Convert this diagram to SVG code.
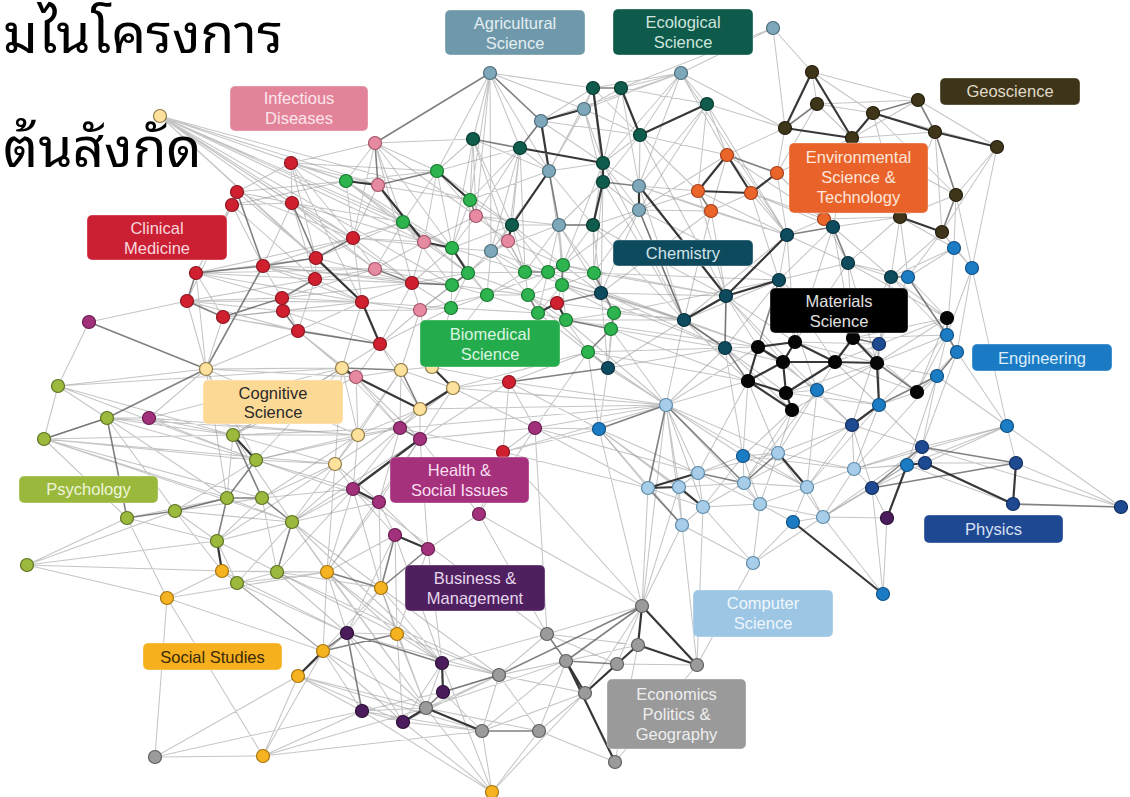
<svg xmlns="http://www.w3.org/2000/svg" width="1130" height="797" viewBox="0 0 1130 797">
<style>
.lt{fill:none;stroke:#858585;stroke-opacity:.48;stroke-width:1.05}
.md{fill:none;stroke:#5e5e5e;stroke-opacity:.78;stroke-width:1.6}
.dk{fill:none;stroke:#222;stroke-opacity:.9;stroke-width:2.2}
circle{stroke-width:1.2}
.ag circle{fill:#7ea7ba;stroke:#4e6e7c}
.ec circle{fill:#0f5b4c;stroke:#073a30}
.ge circle{fill:#3f3518;stroke:#241e0c}
.en circle{fill:#ea6529;stroke:#a8401a}
.ch circle{fill:#0f4b5e;stroke:#06303d}
.ms circle{fill:#050505;stroke:#000}
.eg circle{fill:#1b7cc4;stroke:#0f5286}
.ph circle{fill:#1e4a92;stroke:#112e60}
.cs circle{fill:#a7cde8;stroke:#5d8bab}
.bm circle{fill:#2db44e;stroke:#177a31}
.cm circle{fill:#d0202f;stroke:#8e1520}
.id circle{fill:#e68aa1;stroke:#a4566a}
.cg circle{fill:#fde19c;stroke:#8f7b45}
.ps circle{fill:#9bb93d;stroke:#5e7322}
.hs circle{fill:#a2317b;stroke:#6a1d50}
.ss circle{fill:#f6b321;stroke:#a7760f}
.bu circle{fill:#4b1c5c;stroke:#2c0f37}
.ep circle{fill:#9b9b9b;stroke:#606060}
.lb rect{stroke:#fff;stroke-opacity:.35;stroke-width:1}
.lb text{font-family:"Liberation Sans",Arial,sans-serif;font-size:16.5px;text-anchor:middle}
.thai{font-family:"Noto Sans Thai Looped","Noto Sans Thai","Noto Sans","DejaVu Sans",sans-serif;font-size:55px;fill:#000}
</style>
<rect width="1130" height="797" fill="#fff"/>
<g id="connectors">
<path class="lt" d="M160 116L353 238M160 116L378 185M160 116L346 181M160 116L362 302M160 116L452 248M160 116L424 242M160 116L452 285M160 116L412 283M160 116L470 200M160 116L316 258M160 116L375 269M160 116L292 203M160 116L403 222
M375 143L291 163M375 143L346 181M375 143L353 238M375 143L403 222M375 143L452 248M375 143L476 216M375 143L412 283M375 143L473 139M375 143L437 171
M291 163L292 203M291 163L237 192M291 163L353 238M291 163L346 181M291 163L378 185M291 163L316 258M291 163L403 222M291 163L362 302
M292 203L237 192M292 203L232 205M292 203L353 238M292 203L263 266M292 203L403 222M292 203L375 269M292 203L315 279
M237 192L232 205M237 192L196 273M237 192L316 258M237 192L353 238M232 205L196 273M232 205L187 301M232 205L263 266M232 205L315 279
M196 273L223 317M196 273L282 298M196 273L315 279M196 273L316 258M196 273L375 269M196 273L362 302
M187 301L282 298M187 301L283 311M187 301L298 331M187 301L206 369M187 301L362 302
M223 317L283 311M223 317L298 331M223 317L206 369M223 317L380 344
M263 266L282 298M263 266L315 279M263 266L353 238M263 266L375 269M263 266L362 302M263 266L403 222M263 266L412 283
M282 298L283 311M282 298L298 331M282 298L362 302M282 298L375 269M283 311L380 344M283 311L420 310
M315 279L316 258M315 279L362 302M315 279L375 269M315 279L412 283M315 279L452 285M315 279L298 331
M353 238L316 258M353 238L403 222M353 238L424 242M353 238L375 269M353 238L362 302M353 238L412 283M353 238L452 248M353 238L346 181
M362 302L412 283M362 302L420 310M362 302L451 308M362 302L298 331M362 302L342 368
M412 283L420 310M412 283L452 285M412 283L468 273M412 283L451 308M412 283L424 242M412 283L452 248M412 283L380 344
M298 331L380 344M298 331L342 368M298 331L356 377M298 331L206 369
M380 344L356 377M380 344L342 368M380 344L401 370M380 344L420 310M380 344L420 409M380 344L451 308
M346 181L437 171M346 181L403 222M346 181L452 248M346 181L424 242
M437 171L403 222M437 171L476 216M437 171L452 248M437 171L473 139M437 171L424 242
M470 200L476 216M470 200L452 248M470 200L473 139M470 200L520 148M470 200L549 171M470 200L512 225M470 200L468 273M470 200L525 272
M403 222L452 248M403 222L424 242M403 222L452 285M403 222L375 269M403 222L468 273
M452 248L452 285M452 248L476 216M452 248L512 225M452 248L491 251M452 248L487 295M452 248L525 272
M468 273L452 285M468 273L487 295M468 273L525 272M468 273L491 251M468 273L451 308M468 273L508 241M468 273L528 295
M452 285L487 295M452 285L451 308M452 285L420 310M452 285L528 295
M487 295L451 308M487 295L525 272M487 295L528 295M487 295L538 313M487 295L491 251M487 295L548 272
M451 308L420 310M451 308L538 313M451 308L432 367
M525 272L563 265M525 272L528 295M525 272L491 251M525 272L508 241M525 272L512 225M525 272L559 225
M548 272L562 285M548 272L528 295M548 272L559 225M548 272L594 273M548 272L538 313
M563 265L559 225M563 265L594 273M563 265L593 225M563 265L601 293
M562 285L528 295M562 285L538 313M562 285L566 320M562 285L557 303M562 285L594 273M562 285L614 313
M528 295L557 303M528 295L566 320M538 313L566 320M538 313L588 352
M566 320L588 352M566 320L614 313M594 273L601 293M594 273L593 225M594 273L639 210M594 273L559 225
M614 313L601 293M614 313L684 320M614 313L608 368M611 329L608 368M588 352L608 368M588 352L509 382
M490 73L473 139M490 73L520 148M490 73L549 171M490 73L437 171M490 73L470 200M490 73L491 251M490 73L584 109M490 73L593 88M490 73L476 216
M541 121L520 148M541 121L593 88M541 121L603 163M541 121L640 135M541 121L681 73
M549 171L520 148M549 171L603 163M549 171L512 225M549 171L491 251M549 171L593 225M549 171L563 265
M559 225L491 251M559 225L512 225M559 225L601 293M559 225L603 182M559 225L562 285
M491 251L512 225M491 251L508 241M491 251L528 295M491 251L548 272
M584 109L593 88M584 109L621 88M584 109L681 73M584 109L603 163M584 109L640 135M584 109L549 171M584 109L603 182
M681 73L593 88M681 73L621 88M681 73L707 104M681 73L640 135M681 73L639 186M681 73L727 155M681 73L785 128M681 73L603 163M681 73L773 28M681 73L787 235
M473 139L476 216M473 139L512 225M473 139L452 248M473 139L508 241
M520 148L512 225M520 148L476 216M520 148L508 241M520 148L525 272M520 148L491 251
M512 225L593 225M512 225L525 272M512 225L563 265M512 225L548 272
M593 88L603 182M593 88L640 135M593 88L549 171M621 88L707 104M621 88L639 186M621 88L603 163
M707 104L727 155M707 104L698 191M707 104L785 128M707 104L639 186M707 104L639 210
M640 135L603 163M640 135L639 186M640 135L639 210M640 135L698 191M640 135L603 182
M603 163L593 225M603 163L639 186M603 163L639 210M603 163L563 265
M603 182L639 210M603 182L594 273M603 182L601 293M593 225L601 293M593 225L639 210
M639 186L698 191M639 186L711 211M639 186L787 235M639 210L601 293M639 210L711 211M639 210L684 320
M773 28L785 128M773 28L621 88M773 28L812 72
M727 155L640 135M727 155L639 210M727 155L711 211M727 155L785 128M727 155L824 219M727 155L787 235
M777 173L824 219M777 173L785 128M777 173L817 104M777 173L787 235M777 173L833 227M777 173L852 138
M698 191L787 235M698 191L726 296M698 191L639 210M751 193L711 211M751 193L787 235M751 193L824 219M751 193L779 280M751 193L833 227
M711 211L726 296M711 211L684 320M711 211L787 235M711 211L601 293
M824 219L848 263M824 219L900 217M824 219L852 138M824 219L787 235
M812 72L817 104M812 72L918 100M812 72L873 113M817 104L873 113M817 104L852 138M817 104L918 100
M785 128L727 155M785 128L777 173M918 100L997 147M918 100L852 138
M873 113L997 147M873 113L900 217M873 113L956 195M852 138L935 132M852 138L900 217M852 138L956 195M852 138L833 227
M935 132L900 217M935 132L942 232M997 147L956 195M997 147L942 232M997 147L972 268
M956 195L900 217M956 195L954 248M956 195L972 268M900 217L833 227M900 217L848 263M900 217L954 248M900 217L908 277M900 217L891 277
M942 232L954 248M942 232L972 268M942 232L891 277M942 232L908 277
M833 227L779 280M833 227L891 277M787 235L779 280M787 235L848 263M787 235L684 320
M848 263L891 277M848 263L779 280M848 263L908 277M848 263L853 338M848 263L795 342
M891 277L954 248M891 277L947 318M891 277L853 338M891 277L879 344
M779 280L725 348M779 280L795 342M779 280L684 320M726 296L725 348M726 296L601 293M726 296L758 347
M684 320L725 348M684 320L601 293M684 320L608 368M684 320L666 405M684 320L566 320
M725 348L758 347M725 348L608 368M725 348L666 405M725 348L783 362M601 293L608 368M601 293L562 285
M608 368L666 405M608 368L599 429
M786 393L877 363M792 410L877 363M792 410L778 453M792 410L743 456M786 393L817 390M947 318L853 338M947 318L877 363M947 318L917 392M947 318L908 277
M853 338L879 344M877 363L879 344M917 392L937 376M917 392L879 405M917 392L957 352M748 381L666 405M748 381L743 456M792 410L744 483
M954 248L972 268M954 248L908 277M954 248L947 335M972 268L947 335M972 268L957 352M972 268L1007 426M908 277L879 344
M947 335L937 376M947 335L917 392M957 352L1007 426M937 376L1007 426M937 376L922 447
M879 405L922 447M879 405L817 390M1007 426L922 447M1007 426L925 463M1007 426L1016 463M1007 426L907 465M1007 426L1121 507
M907 465L922 447M907 465L872 488M907 465L854 469M817 390L786 393M817 390L852 425M817 390L778 453M817 390L835 362
M879 344L852 425M879 344L879 405M852 425L922 447M852 425L872 488M852 425L854 469M852 425L778 453M922 447L925 463M925 463L1016 463M925 463L872 488
M872 488L854 469M872 488L823 517M1016 463L1121 507M1013 504L907 465M1121 507L922 447
M793 522L823 517M793 522L760 504M793 522L807 487M883 594L872 488M883 594L823 517M883 594L887 518M887 518L872 488M887 518L823 517
M666 405L698 473M666 405L679 487M666 405L703 507M666 405L682 525M666 405L778 453M666 405L743 456M666 405L535 428M666 405L453 388M666 405L400 428M666 405L509 382M666 405L588 352M666 405L608 368M666 405L420 409M666 405L503 452M666 405L638 645
M778 453L760 504M778 453L743 456M778 453L854 469M778 453L823 517M778 453L698 473
M698 473L679 487M698 473L703 507M698 473L743 456M698 473L760 504
M648 488L703 507M648 488L642 606M648 488L535 428M648 488L599 429
M679 487L682 525M679 487L744 483M744 483L760 504M744 483L807 487M744 483L743 456M744 483L703 507
M807 487L760 504M807 487L823 517M807 487L854 469M807 487L793 522
M703 507L682 525M703 507L760 504M703 507L753 563M760 504L823 517M760 504L753 563
M682 525L642 606M682 525L753 563M753 563L823 517M753 563L793 522M854 469L823 517M854 469L922 447M854 469L925 463
M682 525L697 665M703 507L697 665M753 563L697 665
M206 369L58 386M206 369L196 273M206 369L223 317M206 369L342 368M206 369L233 435M206 369L149 418M206 369L356 377
M58 386L107 418M58 386L44 439M58 386L233 435M58 386L342 368M58 386L256 460
M107 418L44 439M107 418L233 435M107 418L256 460M107 418L175 511M107 418L227 498M107 418L358 435
M44 439L233 435M44 439L256 460M44 439L127 518M44 439L227 498M44 439L262 498M44 439L335 464M44 439L292 522
M233 435L227 498M233 435L358 435M233 435L342 368M233 435L292 522M233 435L149 418M233 435L335 464
M256 460L358 435M256 460L335 464M256 460L353 489M256 460L175 511
M227 498L175 511M227 498L292 522M227 498L127 518
M262 498L277 572M262 498L335 464M262 498L353 489M262 498L217 541
M127 518L27 565M127 518L217 541M127 518L167 598
M175 511L217 541M175 511L292 522M175 511L222 571M175 511L262 498
M27 565L217 541M27 565L222 571M27 565L167 598M27 565L175 511
M217 541L237 583M217 541L292 522M217 541L277 572
M237 583L222 571M237 583L277 572M237 583L327 572M237 583L292 522
M277 572L327 572M277 572L381 588M292 522L335 464M292 522L353 489M292 522L327 572M292 522L381 588M292 522L379 502
M342 368L358 435M342 368L335 464M342 368L400 428
M401 370L453 388M401 370L432 367M401 370L356 377M401 370L400 428M401 370L420 310
M453 388L400 428M453 388L420 439M453 388L509 382M453 388L588 352M453 388L535 428
M420 409L400 428M420 409L420 439M420 409L358 435M420 409L335 464
M358 435L335 464M358 435L353 489M358 435L400 428M358 435L356 377
M335 464L353 489M335 464L379 502M335 464L327 572
M432 367L420 310M432 367L451 308M432 367L487 295M432 367L509 382
M89 322L187 301M89 322L58 386M149 418L233 435M149 418L342 368M149 418L256 460M149 418L107 418M149 418L358 435
M400 428L353 489M400 428L379 502M420 439L379 502M420 439L535 428M420 439L479 514M420 439L428 549
M535 428L509 382M535 428L503 452M535 428L479 514M535 428L599 429M535 428L588 352M535 428L698 473
M353 489L395 535M353 489L327 572M353 489L381 588M379 502L395 535M379 502L381 588M379 502L428 549
M479 514L503 452M479 514L428 549M479 514L547 634M395 535L397 634M395 535L347 633M395 535L327 572M428 549L442 663M428 549L397 634
M509 382L503 452M509 382L588 352M509 382L599 429M509 382L420 439M503 452L400 428M503 452L599 429
M222 571L167 598M222 571L327 572M222 571L323 651M222 571L277 572M167 598L263 756M167 598L323 651M167 598L327 572M167 598L155 757
M263 756L155 757M263 756L298 676M263 756L362 711M263 756L426 708M263 756L482 731M263 756L323 651
M327 572L323 651M327 572L347 633M327 572L397 634M381 588L397 634M381 588L347 633M381 588L323 651M381 588L442 663
M397 634L347 633M397 634L442 663M397 634L403 722M323 651L362 711M323 651L403 722
M298 676L362 711M298 676L347 633M298 676L155 757M298 676L403 722
M492 792L482 731M492 792L426 708M492 792L403 722M492 792L539 731M492 792L362 711M492 792L585 693M492 792L442 663
M347 633L403 722M347 633L426 708M442 663L426 708M442 663L499 675M442 663L547 634M442 663L403 722
M443 692L362 711M443 692L482 731M443 692L499 675M362 711L403 722M362 711L426 708M362 711L482 731M403 722L482 731M403 722L499 675M155 757L362 711
M426 708L499 675M426 708L539 731M426 708L566 661M499 675L482 731M499 675L539 731M499 675L547 634M499 675L566 661M499 675L585 693
M482 731L585 693M482 731L566 661M539 731L566 661M539 731L585 693M539 731L615 762
M547 634L642 606M547 634L638 645M547 634L617 664M566 661L638 645M642 606L617 664M642 606L585 693M642 606L682 525M642 606L679 487
M638 645L615 762M617 664L697 665M617 664L585 693M697 665L615 762
M292 522L426 708M277 572L499 675M327 572L426 708M381 588L499 675M292 522L442 663M353 489L547 634M503 452L642 606M535 428L547 634M599 429L642 606M599 429L648 488M503 452L648 488M479 514L642 606"/>
<path class="lt" d="M563 265L726 296M562 285L725 348M566 320L758 347M594 273L726 296M594 273L779 280M611 329L725 348M611 329L748 381M588 352L748 381M588 352L725 348M614 313L779 280M601 293L758 347M601 293L725 348M557 303L684 320M548 272L684 320M525 272L684 320M563 265L639 210M528 295L608 368M566 320L666 405M611 329L666 405M588 352L599 429
M639 210L779 280M639 186L684 320M603 182L684 320M640 135L726 296M707 104L787 235M603 163L684 320M593 225L684 320M593 225L726 296
M726 296L795 342M726 296L783 362M684 320L758 347M684 320L748 381M725 348L786 393M725 348L792 410M779 280L835 362M779 280L853 338M787 235L795 342M833 227L853 338M833 227L795 342M848 263L877 363M848 263L947 318M891 277L877 363M891 277L947 335M779 280L817 390M726 296L817 390
M758 347L817 390M795 342L879 344M795 342L877 363M835 362L879 405M835 362L917 392M853 338L917 392M853 338L947 335M786 393L879 405M792 410L852 425M783 362L852 425M748 381L778 453M748 381L698 473M758 347L666 405M725 348L743 456M835 362L947 318M877 363L947 335M877 363L937 376
M852 425L807 487M852 425L744 483M879 405L854 469M879 405L807 487M817 390L744 483M817 390L807 487M922 447L823 517M907 465L823 517M937 376L907 465M937 376L854 469M1007 426L854 469M957 352L922 447M947 335L879 405
M666 405L807 487M666 405L760 504M599 429L698 473M599 429L679 487M599 429L703 507M599 429L682 525M743 456L807 487M743 456L760 504M743 456L854 469M743 456L703 507
M237 192L346 181M232 205L346 181M291 163L437 171M292 203L424 242M196 273L353 238M187 301L315 279M223 317L362 302M263 266L452 285M282 298L412 283M283 311L362 302M316 258L403 222M316 258L412 283M375 269L452 285M375 269L424 242M375 269L468 273M420 310L487 295M420 310L468 273M424 242L468 273M424 242L476 216M476 216L512 225M476 216L508 241M508 241L525 272M508 241L563 265M378 185L403 222M378 185L353 238M346 181L470 200M437 171L512 225M437 171L520 148M473 139L549 171M476 216L559 225
M206 369L256 460M206 369L227 498M206 369L358 435M342 368L233 435M342 368L256 460M401 370L358 435M401 370L335 464M356 377L400 428M356 377L233 435M356 377L420 439M233 435L400 428M256 460L400 428M256 460L379 502M292 522L400 428M292 522L420 439M277 572L353 489M327 572L379 502M327 572L420 439M217 541L335 464M262 498L358 435
M327 572L442 663M381 588L426 708M397 634L426 708M397 634L499 675M347 633L499 675M323 651L426 708M298 676L426 708M298 676L482 731M222 571L347 633M237 583L347 633M237 583L323 651M277 572L397 634M277 572L347 633M395 535L442 663"/>
<path class="md" d="M490 73L375 143M490 73L541 121M375 143L378 185M378 185L437 171M473 139L520 148M593 88L621 88M549 171L559 225M559 225L593 225
M196 273L263 266M263 266L316 258M316 258L353 238M196 273L187 301M187 301L223 317M282 298L315 279M223 317L282 298M283 311L298 331M375 269L412 283M292 203L316 258M237 192L263 266M298 331L380 344
M206 369L89 322M206 369L107 418M206 369L263 266M233 435L262 498M256 460L227 498M262 498L292 522M227 498L217 541M127 518L175 511M175 511L227 498M107 418L127 518M292 522L277 572M227 498L262 498M44 439L107 418
M342 368L401 370M401 370L420 409M400 428L420 439M327 572L381 588M381 588L395 535M381 588L428 549M323 651L347 633M323 651L397 634M347 633L442 663M443 692L426 708M362 711L347 633
M499 675L642 606M482 731L539 731M566 661L617 664M566 661L642 606M547 634L566 661M443 692L499 675
M648 488L682 525M698 473L744 483M778 453L744 483M666 405L648 488M666 405L599 429M666 405L744 483M509 382L608 368
M872 488L922 447M872 488L1016 463M1013 504L1121 507M922 447L1016 463M879 405L937 376M947 335L957 352M937 376L957 352M908 277L947 335M947 318L947 335M877 363L917 392M853 338L879 344M748 381L725 348
M779 280L758 347M787 235L833 227M848 263L833 227M891 277L908 277M873 113L918 100M918 100L935 132M956 195L942 232M956 195L935 132M817 104L785 128M727 155L777 173M698 191L711 211
M525 272L548 272M548 272L563 265M563 265L562 285M528 295L538 313M566 320L611 329M594 273L614 313M614 313L611 329M611 329L588 352M468 273L452 285M557 303L601 293
M684 320L725 348M726 296L725 348M639 210L684 320M603 182L639 186M520 148L541 121M470 200L476 216M412 283L452 285"/>
<path class="dk" d="M541 121L584 109M541 121L549 171M621 88L640 135M640 135L707 104M593 88L603 163M603 163L603 182M603 182L593 225M639 186L639 210M639 186L726 296M520 148L603 163M512 225L549 171M512 225L508 241
M437 171L470 200M346 181L378 185M378 185L424 242M424 242L452 248M452 248L468 273M538 313L557 303M557 303L566 320M316 258L362 302M362 302L380 344
M727 155L698 191M698 191L751 193M727 155L751 193M751 193L777 173
M812 72L785 128M812 72L852 138M785 128L852 138M873 113L852 138M873 113L935 132M935 132L997 147M900 217L942 232
M787 235L726 296M779 280L726 296M726 296L684 320
M758 347L795 342M758 347L783 362M758 347L748 381M795 342L783 362M783 362L748 381M748 381L786 393M783 362L786 393M786 393L792 410M748 381L792 410M795 342L835 362M783 362L835 362M835 362L853 338M786 393L835 362M835 362L877 363M853 338L877 363M879 405L877 363M879 405L852 425
M925 463L1013 504M1016 463L1013 504M907 465L925 463M887 518L907 465M793 522L883 594
M648 488L698 473M648 488L679 487M679 487L703 507M778 453L807 487
M233 435L256 460M356 377L420 409M342 368L356 377M420 409L453 388M432 367L453 388M353 489L420 439M379 502L353 489M395 535L428 549
M222 571L217 541M298 676L323 651M442 663L443 692M403 722L426 708M426 708L482 731
M642 606L638 645M642 606L697 665M638 645L697 665M638 645L585 693M566 661L615 762M566 661L585 693M617 664L638 645"/>
</g>
<g id="nodes">
<g id="agricultural-nodes" class="ag"><circle id="A1" cx="490" cy="73" r="6.5"/><circle id="A2" cx="541" cy="121" r="6.5"/><circle id="A3" cx="549" cy="171" r="6.5"/><circle id="A4" cx="559" cy="225" r="6.5"/><circle id="A5" cx="491" cy="251" r="6.5"/><circle id="A6" cx="584" cy="109" r="6.5"/><circle id="A7" cx="681" cy="73" r="6.5"/><circle id="A8" cx="639" cy="186" r="6.5"/><circle id="A9" cx="639" cy="210" r="6.5"/><circle id="A10" cx="773" cy="28" r="6.5"/></g>
<g id="ecological-nodes" class="ec"><circle id="E1" cx="473" cy="139" r="6.5"/><circle id="E2" cx="520" cy="148" r="6.5"/><circle id="E3" cx="512" cy="225" r="6.5"/><circle id="E4" cx="593" cy="88" r="6.5"/><circle id="E5" cx="621" cy="88" r="6.5"/><circle id="E6" cx="707" cy="104" r="6.5"/><circle id="E7" cx="640" cy="135" r="6.5"/><circle id="E8" cx="603" cy="163" r="6.5"/><circle id="E9" cx="603" cy="182" r="6.5"/><circle id="E10" cx="593" cy="225" r="6.5"/></g>
<g id="geoscience-nodes" class="ge"><circle id="G1" cx="812" cy="72" r="6.5"/><circle id="G2" cx="817" cy="104" r="6.5"/><circle id="G3" cx="785" cy="128" r="6.5"/><circle id="G4" cx="918" cy="100" r="6.5"/><circle id="G5" cx="873" cy="113" r="6.5"/><circle id="G6" cx="852" cy="138" r="6.5"/><circle id="G7" cx="935" cy="132" r="6.5"/><circle id="G8" cx="997" cy="147" r="6.5"/><circle id="G9" cx="956" cy="195" r="6.5"/><circle id="G10" cx="900" cy="217" r="6.5"/><circle id="G11" cx="942" cy="232" r="6.5"/></g>
<g id="environmental-nodes" class="en"><circle id="N1" cx="727" cy="155" r="6.5"/><circle id="N2" cx="777" cy="173" r="6.5"/><circle id="N3" cx="698" cy="191" r="6.5"/><circle id="N4" cx="751" cy="193" r="6.5"/><circle id="N5" cx="711" cy="211" r="6.5"/><circle id="N6" cx="824" cy="219" r="6.5"/></g>
<g id="chemistry-nodes" class="ch"><circle id="C1" cx="833" cy="227" r="6.5"/><circle id="C2" cx="787" cy="235" r="6.5"/><circle id="C3" cx="848" cy="263" r="6.5"/><circle id="C4" cx="891" cy="277" r="6.5"/><circle id="C5" cx="779" cy="280" r="6.5"/><circle id="C6" cx="726" cy="296" r="6.5"/><circle id="C7" cx="684" cy="320" r="6.5"/><circle id="C8" cx="725" cy="348" r="6.5"/><circle id="C9" cx="601" cy="293" r="6.5"/><circle id="C10" cx="608" cy="368" r="6.5"/></g>
<g id="materials-nodes" class="ms"><circle id="M1" cx="758" cy="347" r="6.5"/><circle id="M2" cx="795" cy="342" r="6.5"/><circle id="M3" cx="783" cy="362" r="6.5"/><circle id="M4" cx="748" cy="381" r="6.5"/><circle id="M5" cx="835" cy="362" r="6.5"/><circle id="M6" cx="786" cy="393" r="6.5"/><circle id="M7" cx="792" cy="410" r="6.5"/><circle id="M8" cx="947" cy="318" r="6.5"/><circle id="M9" cx="853" cy="338" r="6.5"/><circle id="M10" cx="877" cy="363" r="6.5"/><circle id="M11" cx="917" cy="392" r="6.5"/></g>
<g id="engineering-nodes" class="eg"><circle id="B1" cx="954" cy="248" r="6.5"/><circle id="B2" cx="972" cy="268" r="6.5"/><circle id="B3" cx="908" cy="277" r="6.5"/><circle id="B4" cx="947" cy="335" r="6.5"/><circle id="B5" cx="957" cy="352" r="6.5"/><circle id="B6" cx="937" cy="376" r="6.5"/><circle id="B7" cx="879" cy="405" r="6.5"/><circle id="B8" cx="1007" cy="426" r="6.5"/><circle id="B9" cx="907" cy="465" r="6.5"/><circle id="B10" cx="817" cy="390" r="6.5"/><circle id="B11" cx="599" cy="429" r="6.5"/><circle id="B12" cx="743" cy="456" r="6.5"/><circle id="B13" cx="793" cy="522" r="6.5"/><circle id="B14" cx="883" cy="594" r="6.5"/></g>
<g id="physics-nodes" class="ph"><circle id="P1" cx="879" cy="344" r="6.5"/><circle id="P2" cx="852" cy="425" r="6.5"/><circle id="P3" cx="922" cy="447" r="6.5"/><circle id="P4" cx="925" cy="463" r="6.5"/><circle id="P5" cx="872" cy="488" r="6.5"/><circle id="P6" cx="1016" cy="463" r="6.5"/><circle id="P7" cx="1013" cy="504" r="6.5"/><circle id="P8" cx="1121" cy="507" r="6.5"/></g>
<g id="computer-nodes" class="cs"><circle id="S1" cx="666" cy="405" r="6.5"/><circle id="S2" cx="778" cy="453" r="6.5"/><circle id="S3" cx="698" cy="473" r="6.5"/><circle id="S4" cx="648" cy="488" r="6.5"/><circle id="S5" cx="679" cy="487" r="6.5"/><circle id="S6" cx="744" cy="483" r="6.5"/><circle id="S7" cx="807" cy="487" r="6.5"/><circle id="S8" cx="703" cy="507" r="6.5"/><circle id="S9" cx="760" cy="504" r="6.5"/><circle id="S10" cx="823" cy="517" r="6.5"/><circle id="S11" cx="682" cy="525" r="6.5"/><circle id="S12" cx="854" cy="469" r="6.5"/><circle id="S13" cx="753" cy="563" r="6.5"/></g>
<g id="biomedical-nodes" class="bm"><circle id="g1" cx="346" cy="181" r="6.5"/><circle id="g2" cx="437" cy="171" r="6.5"/><circle id="g3" cx="470" cy="200" r="6.5"/><circle id="g4" cx="403" cy="222" r="6.5"/><circle id="g5" cx="452" cy="248" r="6.5"/><circle id="g6" cx="468" cy="273" r="6.5"/><circle id="g7" cx="452" cy="285" r="6.5"/><circle id="g8" cx="487" cy="295" r="6.5"/><circle id="g9" cx="451" cy="308" r="6.5"/><circle id="g10" cx="525" cy="272" r="6.5"/><circle id="g11" cx="548" cy="272" r="6.5"/><circle id="g12" cx="563" cy="265" r="6.5"/><circle id="g13" cx="562" cy="285" r="6.5"/><circle id="g14" cx="528" cy="295" r="6.5"/><circle id="g15" cx="538" cy="313" r="6.5"/><circle id="g16" cx="566" cy="320" r="6.5"/><circle id="g17" cx="594" cy="273" r="6.5"/><circle id="g18" cx="614" cy="313" r="6.5"/><circle id="g19" cx="611" cy="329" r="6.5"/><circle id="g20" cx="588" cy="352" r="6.5"/></g>
<g id="clinical-nodes" class="cm"><circle id="R1" cx="237" cy="192" r="6.5"/><circle id="R2" cx="232" cy="205" r="6.5"/><circle id="R3" cx="291" cy="163" r="6.5"/><circle id="R4" cx="292" cy="203" r="6.5"/><circle id="R5" cx="353" cy="238" r="6.5"/><circle id="R6" cx="316" cy="258" r="6.5"/><circle id="R7" cx="196" cy="273" r="6.5"/><circle id="R8" cx="187" cy="301" r="6.5"/><circle id="R9" cx="223" cy="317" r="6.5"/><circle id="R10" cx="263" cy="266" r="6.5"/><circle id="R11" cx="282" cy="298" r="6.5"/><circle id="R12" cx="283" cy="311" r="6.5"/><circle id="R13" cx="315" cy="279" r="6.5"/><circle id="R14" cx="362" cy="302" r="6.5"/><circle id="R15" cx="412" cy="283" r="6.5"/><circle id="R16" cx="298" cy="331" r="6.5"/><circle id="R17" cx="380" cy="344" r="6.5"/><circle id="R18" cx="509" cy="382" r="6.5"/><circle id="R19" cx="503" cy="452" r="6.5"/><circle id="R20" cx="557" cy="303" r="6.5"/></g>
<g id="infectious-nodes" class="id"><circle id="I1" cx="375" cy="143" r="6.5"/><circle id="I2" cx="378" cy="185" r="6.5"/><circle id="I3" cx="476" cy="216" r="6.5"/><circle id="I4" cx="424" cy="242" r="6.5"/><circle id="I5" cx="508" cy="241" r="6.5"/><circle id="I6" cx="375" cy="269" r="6.5"/><circle id="I7" cx="420" cy="310" r="6.5"/><circle id="I8" cx="356" cy="377" r="6.5"/></g>
<g id="cognitive-nodes" class="cg"><circle id="Y1" cx="160" cy="116" r="6.5"/><circle id="Y2" cx="206" cy="369" r="6.5"/><circle id="Y3" cx="342" cy="368" r="6.5"/><circle id="Y4" cx="401" cy="370" r="6.5"/><circle id="Y5" cx="453" cy="388" r="6.5"/><circle id="Y6" cx="420" cy="409" r="6.5"/><circle id="Y7" cx="358" cy="435" r="6.5"/><circle id="Y8" cx="335" cy="464" r="6.5"/><circle id="Y9" cx="432" cy="367" r="6.5"/></g>
<g id="psychology-nodes" class="ps"><circle id="Q1" cx="58" cy="386" r="6.5"/><circle id="Q2" cx="107" cy="418" r="6.5"/><circle id="Q3" cx="44" cy="439" r="6.5"/><circle id="Q4" cx="233" cy="435" r="6.5"/><circle id="Q5" cx="256" cy="460" r="6.5"/><circle id="Q6" cx="227" cy="498" r="6.5"/><circle id="Q7" cx="262" cy="498" r="6.5"/><circle id="Q8" cx="127" cy="518" r="6.5"/><circle id="Q9" cx="175" cy="511" r="6.5"/><circle id="Q10" cx="27" cy="565" r="6.5"/><circle id="Q11" cx="217" cy="541" r="6.5"/><circle id="Q12" cx="237" cy="583" r="6.5"/><circle id="Q13" cx="277" cy="572" r="6.5"/><circle id="Q14" cx="292" cy="522" r="6.5"/></g>
<g id="health-nodes" class="hs"><circle id="H1" cx="89" cy="322" r="6.5"/><circle id="H2" cx="149" cy="418" r="6.5"/><circle id="H3" cx="400" cy="428" r="6.5"/><circle id="H4" cx="420" cy="439" r="6.5"/><circle id="H5" cx="535" cy="428" r="6.5"/><circle id="H6" cx="353" cy="489" r="6.5"/><circle id="H7" cx="379" cy="502" r="6.5"/><circle id="H8" cx="479" cy="514" r="6.5"/><circle id="H9" cx="395" cy="535" r="6.5"/><circle id="H10" cx="428" cy="549" r="6.5"/></g>
<g id="social-nodes" class="ss"><circle id="O1" cx="222" cy="571" r="6.5"/><circle id="O2" cx="167" cy="598" r="6.5"/><circle id="O3" cx="263" cy="756" r="6.5"/><circle id="O4" cx="327" cy="572" r="6.5"/><circle id="O5" cx="381" cy="588" r="6.5"/><circle id="O6" cx="397" cy="634" r="6.5"/><circle id="O7" cx="323" cy="651" r="6.5"/><circle id="O8" cx="298" cy="676" r="6.5"/><circle id="O9" cx="492" cy="792" r="6.5"/></g>
<g id="business-nodes" class="bu"><circle id="U1" cx="347" cy="633" r="6.5"/><circle id="U2" cx="442" cy="663" r="6.5"/><circle id="U3" cx="443" cy="692" r="6.5"/><circle id="U4" cx="362" cy="711" r="6.5"/><circle id="U5" cx="403" cy="722" r="6.5"/><circle id="H11" cx="887" cy="518" r="6.5"/></g>
<g id="economics-nodes" class="ep"><circle id="X1" cx="155" cy="757" r="6.5"/><circle id="X2" cx="426" cy="708" r="6.5"/><circle id="X3" cx="499" cy="675" r="6.5"/><circle id="X4" cx="482" cy="731" r="6.5"/><circle id="X5" cx="539" cy="731" r="6.5"/><circle id="X6" cx="547" cy="634" r="6.5"/><circle id="X7" cx="566" cy="661" r="6.5"/><circle id="X8" cx="642" cy="606" r="6.5"/><circle id="X9" cx="638" cy="645" r="6.5"/><circle id="X11" cx="617" cy="664" r="6.5"/><circle id="X12" cx="697" cy="665" r="6.5"/><circle id="X13" cx="585" cy="693" r="6.5"/><circle id="X14" cx="615" cy="762" r="6.5"/></g>
</g>
<g id="labels">
<g id="label-agricultural" class="lb"><rect x="445" y="10" width="140" height="45" rx="5" fill="#6f99aa"/><text fill="#e3eef2"><tspan x="515" y="29">Agricultural</tspan><tspan x="515" y="49">Science</tspan></text></g>
<g id="label-ecological" class="lb"><rect x="613" y="9" width="140" height="46" rx="5" fill="#0e5a4b"/><text fill="#cfe5dd"><tspan x="683" y="28">Ecological</tspan><tspan x="683" y="48">Science</tspan></text></g>
<g id="label-geoscience" class="lb"><rect x="940" y="78" width="140" height="27" rx="5" fill="#3d3419"/><text x="1010" y="97" fill="#e0dac8">Geoscience</text></g>
<g id="label-environmental" class="lb"><rect x="789" y="143" width="139" height="70" rx="5" fill="#e9622a"/><text fill="#fde6da"><tspan x="858.5" y="163">Environmental</tspan><tspan x="858.5" y="183">Science &amp;</tspan><tspan x="858.5" y="203">Technology</tspan></text></g>
<g id="label-infectious" class="lb"><rect x="230" y="86" width="138" height="45" rx="5" fill="#e3839a"/><text fill="#fce6eb"><tspan x="299" y="104">Infectious</tspan><tspan x="299" y="124">Diseases</tspan></text></g>
<g id="label-clinical" class="lb"><rect x="87" y="215" width="140" height="45" rx="5" fill="#cb1f34"/><text fill="#f8d7db"><tspan x="157" y="234">Clinical</tspan><tspan x="157" y="254">Medicine</tspan></text></g>
<g id="label-chemistry" class="lb"><rect x="613" y="240" width="140" height="26" rx="5" fill="#0e4a5e"/><text x="683" y="259" fill="#d2e3e9">Chemistry</text></g>
<g id="label-materials" class="lb"><rect x="770" y="288" width="138" height="45" rx="5" fill="#000"/><text fill="#e0e0e0"><tspan x="839" y="307">Materials</tspan><tspan x="839" y="327">Science</tspan></text></g>
<g id="label-biomedical" class="lb"><rect x="420" y="320" width="140" height="47" rx="5" fill="#24ab4c"/><text fill="#dbf5e2"><tspan x="490" y="340">Biomedical</tspan><tspan x="490" y="360">Science</tspan></text></g>
<g id="label-engineering" class="lb"><rect x="972" y="344" width="140" height="27" rx="5" fill="#1a7bc4"/><text x="1042" y="364" fill="#dcecf8">Engineering</text></g>
<g id="label-cognitive" class="lb"><rect x="203" y="380" width="140" height="44" rx="5" fill="#fdd996"/><text fill="#2a2a2a"><tspan x="273" y="399">Cognitive</tspan><tspan x="273" y="418">Science</tspan></text></g>
<g id="label-psychology" class="lb"><rect x="19" y="476" width="139" height="27" rx="5" fill="#9ab83c"/><text x="88.5" y="495" fill="#eef5d9">Psychology</text></g>
<g id="label-health" class="lb"><rect x="390" y="457" width="139" height="46" rx="5" fill="#a5307c"/><text fill="#f9dff0"><tspan x="459.5" y="476">Health &amp;</tspan><tspan x="459.5" y="496">Social Issues</tspan></text></g>
<g id="label-physics" class="lb"><rect x="924" y="515" width="139" height="28" rx="5" fill="#1f4893"/><text x="993.5" y="535" fill="#d7e1f3">Physics</text></g>
<g id="label-business" class="lb"><rect x="405" y="565" width="140" height="46" rx="5" fill="#4f2060"/><text fill="#e6d6ec"><tspan x="475" y="584">Business &amp;</tspan><tspan x="475" y="604">Management</tspan></text></g>
<g id="label-computer" class="lb"><rect x="693" y="590" width="140" height="47" rx="5" fill="#9cc6e4"/><text fill="#eef6fc"><tspan x="763" y="609">Computer</tspan><tspan x="763" y="629">Science</tspan></text></g>
<g id="label-social" class="lb"><rect x="143" y="643" width="139" height="27" rx="5" fill="#f6af1d"/><text x="212.5" y="663" fill="#3a2a08">Social Studies</text></g>
<g id="label-economics" class="lb"><rect x="607" y="679" width="139" height="70" rx="5" fill="#9a9a9a"/><text fill="#eeeeee"><tspan x="676.5" y="700">Economics</tspan><tspan x="676.5" y="720">Politics &amp;</tspan><tspan x="676.5" y="740">Geography</tspan></text></g>
</g>
<g id="caption">
<text class="thai" x="3" y="53">มไนโครงการ</text>
<text class="thai" x="3" y="167">ต้นสังกัด</text>
</g>
</svg>
